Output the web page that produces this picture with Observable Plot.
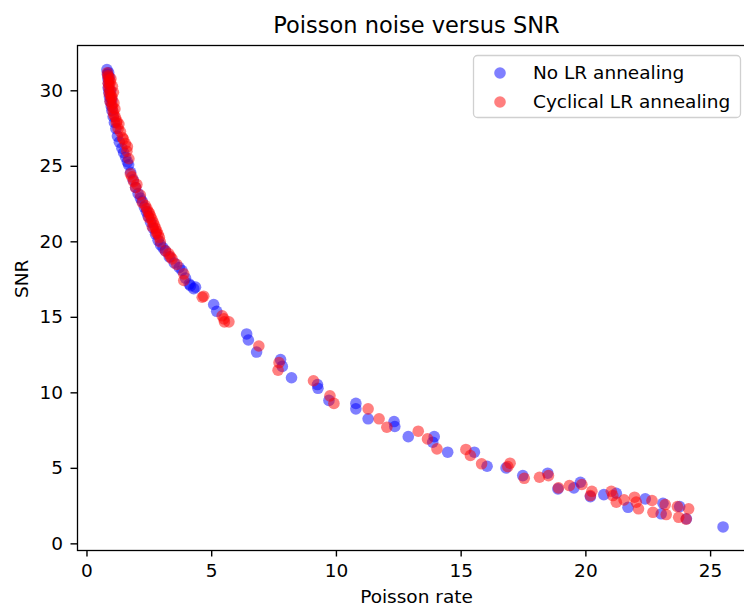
<!DOCTYPE html>
<html>
<head>
<meta charset="utf-8">
<script src="https://cdn.jsdelivr.net/npm/d3@7"></script>
<script src="https://cdn.jsdelivr.net/npm/@observablehq/plot@0.6"></script>
<style>
  html, body { margin: 0; padding: 0; background: #fff; overflow: hidden; width: 744px; height: 606px; }
  #chart svg { max-width: none !important; display: block; }
</style>
</head>
<body>
<div id="chart"></div>
<script>
const chartTitle = "Poisson noise versus SNR";
const xLabel = "Poisson rate";
const yLabel = "SNR";
const seriesNames = ["No LR annealing", "Cyclical LR annealing"];
const seriesColors = ["blue", "red"];
const xTicks = [0, 5, 10, 15, 20, 25];
const yTicks = [0, 5, 10, 15, 20, 25, 30];

// No LR annealing
const blueRate = [0.80,0.82,0.84,0.86,0.85,0.88,0.90,0.93,0.97,1.00,1.05,1.10,1.16,1.22,1.30,1.40,1.47,1.55,1.62,1.67,1.75,1.85,1.95,2.05,2.14,2.21,2.30,2.38,2.45,2.55,2.65,2.75,2.85,2.95,3.05,3.14,3.30,3.50,3.70,3.81,3.95,4.10,4.15,4.28,4.35,
  0.90,0.95,1.00,0.87,
  5.08,5.20,6.40,6.47,6.80,7.76,7.83,8.20,9.24,9.26,9.70,10.78,10.78,11.27,12.31,12.34,12.88,13.92,13.86,14.46,15.53,16.04,16.80,17.47,18.47,18.88,19.52,19.78,20.18,20.72,21.22,21.69,22.38,23.02,23.09,23.76,24.03,25.50];
const blueSnr = [31.4,31.1,30.8,30.5,30.2,29.9,29.6,29.3,29.0,28.7,28.3,27.9,27.5,27.0,26.6,26.2,25.9,25.6,25.3,25.1,24.6,24.1,23.6,23.2,22.9,22.7,22.3,22.0,21.7,21.3,20.9,20.5,20.1,19.8,19.6,19.4,19.0,18.6,18.3,18.1,17.6,17.2,17.1,16.9,17.0,
  30.9,30.0,29.4,31.2,
  15.85,15.4,13.9,13.5,12.7,12.2,11.75,11.0,10.55,10.3,9.5,9.3,8.94,8.28,8.1,7.77,7.1,7.1,6.73,6.07,6.07,5.14,5.03,4.52,4.68,3.64,3.71,4.08,3.13,3.26,3.35,2.42,2.98,1.99,2.69,2.47,1.66,1.12];

// Cyclical LR annealing
const redRate = [0.82,0.84,0.86,0.88,0.85,0.90,0.87,0.92,0.89,0.95,0.98,0.93,1.00,1.02,1.05,1.08,1.14,1.18,1.25,1.34,1.42,1.54,1.60,1.68,1.74,1.80,1.87,1.95,2.14,2.34,2.40,2.45,2.50,2.55,2.60,2.65,2.70,2.75,2.80,2.85,2.90,2.94,3.28,3.41,3.60,3.88,3.88,4.62,4.68,5.42,5.49,5.51,5.69,
  0.96,1.02,1.06,1.00,1.08,1.12,0.94,1.20,1.28,1.46,1.62,2.00,2.22,2.48,2.62,2.78,3.15,3.35,
  6.89,7.70,7.66,9.08,9.74,9.90,11.27,11.71,12.02,13.28,13.65,14.03,15.19,15.37,15.82,16.96,16.87,17.53,18.14,18.50,18.90,19.34,19.84,20.24,20.18,21.02,21.08,21.22,21.53,21.95,22.02,22.11,22.65,22.69,23.18,23.22,23.67,24.12,23.72,24.02];
const redSnr = [31.2,31.0,30.9,30.7,30.5,30.4,30.2,30.0,29.8,29.7,29.5,29.3,29.1,28.9,28.6,28.4,28.25,27.9,27.5,27.3,26.9,26.5,26.0,25.5,24.5,24.3,24.0,23.6,23.1,22.4,22.2,22.0,21.9,21.7,21.5,21.3,21.1,20.9,20.7,20.5,20.3,20.0,19.2,18.87,18.5,17.88,17.44,16.33,16.4,15.1,14.9,14.7,14.7,
  30.8,30.3,29.9,29.6,29.2,28.8,30.6,28.0,27.8,26.8,26.3,23.8,22.6,21.6,21.0,20.6,19.4,19.0,
  13.1,12.0,11.5,10.8,9.8,9.3,8.94,8.28,7.72,7.46,6.95,6.29,6.25,5.85,5.3,5.34,5.12,4.34,4.41,4.52,3.71,3.86,3.93,3.48,3.2,3.48,3.2,2.76,2.91,3.09,2.76,2.32,2.87,2.09,2.6,1.94,2.47,2.32,1.76,1.64];

const blueData = blueRate.map((r, i) => ({rate: r, snr: blueSnr[i]}));
const redData = redRate.map((r, i) => ({rate: r, snr: redSnr[i]}));

const font = "DejaVu Sans, sans-serif";
const R = 5.8;
const fs = 18.5;

const plot = Plot.plot({
  width: 760,
  height: 606,
  marginLeft: 77,
  marginRight: 5,
  marginTop: 45,
  marginBottom: 56,
  style: {fontFamily: font, background: "white", color: "black", overflow: "visible"},
  x: {domain: [-0.38, 26.8]},
  y: {domain: [-0.44, 33.0]},
  marks: [
    Plot.dot(blueData, {x: "rate", y: "snr", r: R, fill: seriesColors[0], fillOpacity: 0.5}),
    Plot.dot(redData, {x: "rate", y: "snr", r: R, fill: seriesColors[1], fillOpacity: 0.5}),
    Plot.frame({stroke: "black", strokeWidth: 1.3}),
    Plot.axisX({ticks: xTicks, tickFormat: d => String(d), tickSize: 6.5, tickPadding: 7, fontSize: fs, label: null, strokeWidth: 1.4}),
    Plot.axisY({ticks: yTicks, tickFormat: d => String(d), tickSize: 6.5, tickPadding: 8, fontSize: fs, label: null, strokeWidth: 1.4}),
    Plot.text([chartTitle], {frameAnchor: "top", lineAnchor: "middle", dy: -20, fontSize: 22.5, fill: "black"}),
    Plot.text([xLabel], {frameAnchor: "bottom", lineAnchor: "middle", dy: 47, fontSize: fs, fill: "black"}),
    Plot.text([yLabel], {frameAnchor: "left", lineAnchor: "middle", dx: -55, rotate: -90, fontSize: fs, fill: "black"})
  ]
});
plot.style.maxWidth = "none";
document.getElementById("chart").appendChild(plot);

// legend
const svg = d3.select(plot);
const lg = svg.append("g").attr("font-family", font).attr("font-size", fs).attr("text-anchor", "start");
lg.append("rect").attr("x", 473.5).attr("y", 55.5).attr("width", 267).attr("height", 62)
  .attr("rx", 4).attr("fill", "white").attr("fill-opacity", 0.8).attr("stroke", "#d0d0d0").attr("stroke-width", 1.3);
seriesNames.forEach((name, i) => {
  const cy = 73 + i * 29;
  lg.append("circle").attr("cx", 500).attr("cy", cy).attr("r", R)
    .attr("fill", seriesColors[i]).attr("fill-opacity", 0.5);
  lg.append("text").attr("x", 533).attr("y", cy).attr("dy", "0.35em").attr("fill", "black").text(name);
});
</script>
</body>
</html>
